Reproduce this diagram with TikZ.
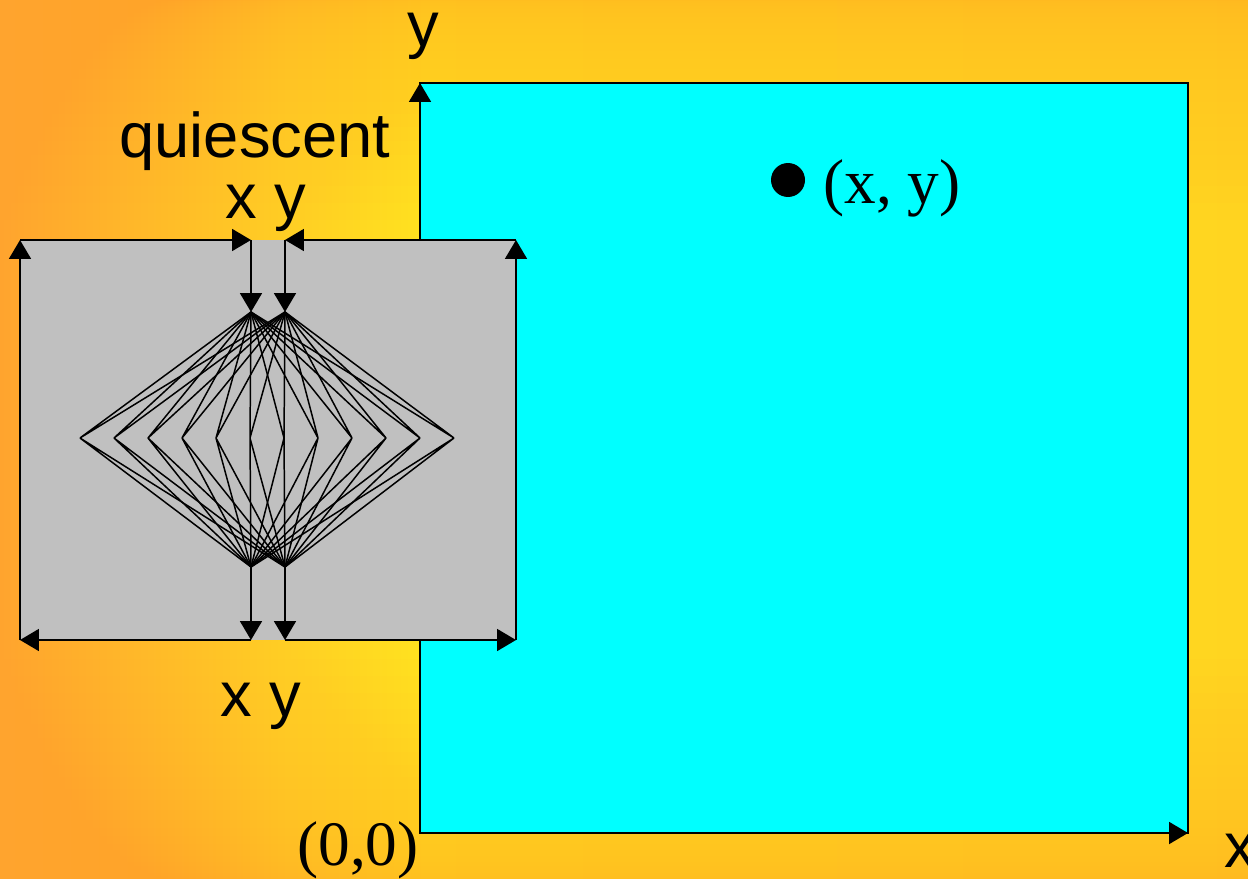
\documentclass[tikz,border=0pt]{standalone}
\usepackage{fontspec}
\setmainfont{Liberation Serif}
\setsansfont{Liberation Sans}
\usetikzlibrary{arrows.meta}
\definecolor{bgorange}{HTML}{FFA42E}
\definecolor{bgyellow}{HTML}{FFE21F}
\definecolor{bgright}{HTML}{FFD520}
\definecolor{boxgray}{HTML}{C0C0C0}
\definecolor{plane}{HTML}{00FFFF}
\pgfdeclarehorizontalshading{bgshade}{100bp}{color(0bp)=(bgorange); color(25bp)=(bgorange); color(42bp)=(bgyellow); color(75bp)=(bgright); color(100bp)=(bgright)}
\tikzset{
  wire/.style={line width=1.1pt},
  net/.style={line width=0.85pt},
  arr/.style={-{Triangle[length=0.38cm,width=0.44cm]}},
  veil/.style={bgorange, opacity=0.025},
  axislabel/.style={font=\sffamily\fontsize{36}{43}\selectfont, inner sep=0pt},
  pointlabel/.style={font=\rmfamily\fontsize{36}{43}\selectfont, inner sep=0pt}
}

\begin{document}
\begin{tikzpicture}[x={(0.02cm,0)},y={(0,-0.02cm)}]
  \useasboundingbox (0,0) rectangle (1248,879);
  \shade [shading=bgshade] (0,0) rectangle (1248,879);
  % darker towards top and bottom
  \foreach \k in {1,...,25} {
    \fill [veil] (0,0) rectangle (1248,{0.352*\k*\k});
    \fill [veil] (0,879) rectangle (1248,{879-0.352*\k*\k});
  }

  % the x-y plane
  \coordinate (o) at (420,833);
  \coordinate (ytop) at (420,83);
  \coordinate (xend) at (1188,833);
  \draw [wire, fill=plane] (o) rectangle (1188,83);
  \draw [wire, arr] (o) -- (ytop);
  \draw [wire, arr] (o) -- (xend);
  \node [axislabel, anchor=base] (ylab) at (423,46) {y};
  \node [axislabel, anchor=base west] (xlab) at (1224,867) {x};
  \node [pointlabel, anchor=base west] (olab) at (297,865) {(0,0)};
  \node [circle, fill, minimum size=0.68cm, inner sep=0pt] (pt) at (788,180) {};
  \node [pointlabel, anchor=base west] (ptlab) at (823,203) {(x, y)};

  % the network with its loop
  \coordinate (gtl) at (20,240);
  \coordinate (gtr) at (516,240);
  \coordinate (gbl) at (20,640);
  \coordinate (gbr) at (516,640);
  \coordinate (xin) at (251,240);
  \coordinate (yin) at (285,240);
  \coordinate (xout) at (251,640);
  \coordinate (yout) at (285,640);
  \coordinate (t1) at (251,312);
  \coordinate (t2) at (285,312);
  \coordinate (b1) at (251,567);
  \coordinate (b2) at (285,567);
  \foreach \i in {1,...,12}
    \coordinate (m\i) at ({46+34*\i},438);

  \fill [boxgray] (gtl) rectangle (gbr);
  \foreach \i in {1,...,12}
    \draw [net] (t1) -- (m\i) (m\i) -- (b1) (t2) -- (m\i) (m\i) -- (b2);

  \draw [wire, arr] (xin) -- (t1);
  \draw [wire, arr] (yin) -- (t2);
  \draw [wire, arr] (b1) -- (xout);
  \draw [wire, arr] (b2) -- (yout);
  \draw [wire, arr] (xout) -- (gbl);
  \draw [wire, arr] (gbl) -- (gtl);
  \draw [wire, arr] (gtl) -- (xin);
  \draw [wire, arr] (yout) -- (gbr);
  \draw [wire, arr] (gbr) -- (gtr);
  \draw [wire, arr] (gtr) -- (yin);

  \node [axislabel, anchor=base] (qlab) at (255,157) {quiescent};
  \node [axislabel, anchor=base] (inlab) at (266,218) {x y};
  \node [axislabel, anchor=base] (outlab) at (261,716) {x y};
\end{tikzpicture}
\end{document}
